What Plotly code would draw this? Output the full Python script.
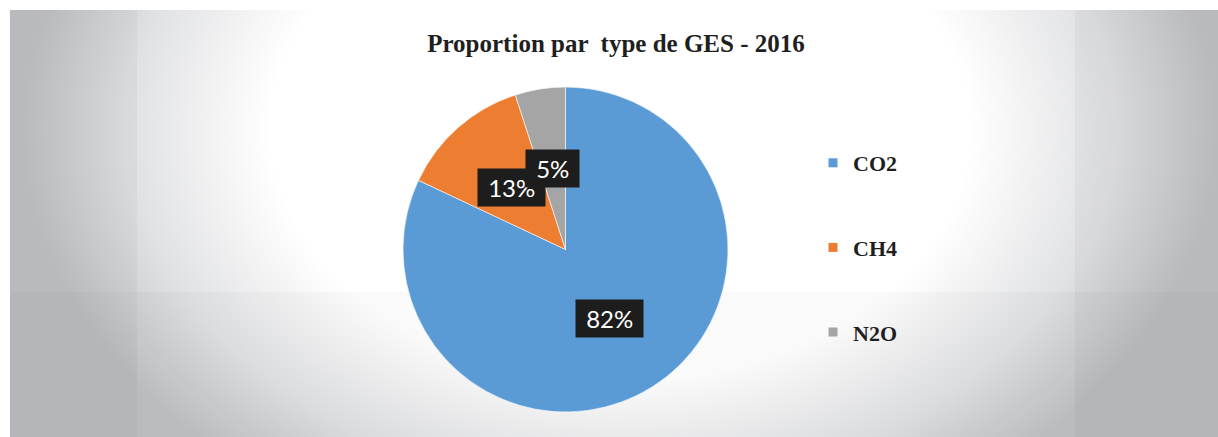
import base64
import math
import plotly.graph_objects as go

# ---- data ----
categories = ["CO2", "CH4", "N2O"]
values = [82, 13, 5]
colors = ["#5A9BD6", "#ED7D31", "#A5A5A5"]
title_text = "Proportion par  type de GES - 2016"

W, H = 1218, 437

# ---- background (gradient frame, styling only) ----
svg = f'''<svg xmlns="http://www.w3.org/2000/svg" width="{W}" height="{H}" viewBox="0 0 {W} {H}">
<defs>
<radialGradient id="g" gradientUnits="userSpaceOnUse" cx="620" cy="130" r="600"
  gradientTransform="translate(620 130) scale(1 0.72) translate(-620 -130)">
<stop offset="0" stop-color="#ffffff"/>
<stop offset="0.58" stop-color="#ffffff"/>
<stop offset="0.82" stop-color="#e0e1e3"/>
<stop offset="1" stop-color="#bfc0c4"/>
</radialGradient>
</defs>
<rect x="0" y="0" width="{W}" height="{H}" fill="#ffffff"/>
<rect x="10" y="10" width="{W-10}" height="{H-10}" fill="url(#g)"/>
<rect x="10" y="10" width="127" height="{H-10}" fill="#000" fill-opacity="0.03"/>
<rect x="1075" y="10" width="{W-1075}" height="{H-10}" fill="#000" fill-opacity="0.03"/>
<rect x="10" y="292" width="{W-10}" height="{H-292}" fill="#000" fill-opacity="0.018"/>
</svg>'''
bg_uri = "data:image/svg+xml;base64," + base64.b64encode(svg.encode()).decode()

dom_x = [403 / W, 728 / W]
dom_y = [1 - 412 / H, 1 - 87 / H]

fig = go.Figure()
fig.add_trace(go.Pie(
    labels=categories, values=values, sort=False,
    direction="clockwise", rotation=0,
    marker=dict(colors=colors, line=dict(color="white", width=0.6)),
    textinfo="none", hoverinfo="label+percent",
    showlegend=False, domain=dict(x=dom_x, y=dom_y),
))

# percentage labels with dark boxes, placed from the slice angles
cx = (dom_x[0] + dom_x[1]) / 2
cy = (dom_y[0] + dom_y[1]) / 2
r_px = min((dom_x[1] - dom_x[0]) * W, (dom_y[1] - dom_y[0]) * H) / 2
total = sum(values)
cum = 0
for cat, v in zip(categories, values):
    mid = (cum + v / 2) / total * 2 * math.pi
    cum += v
    fig.add_annotation(
        x=cx + 0.505 * r_px * math.sin(mid) / W,
        y=cy + 0.505 * r_px * math.cos(mid) / H,
        xref="paper", yref="paper",
        text=f"&nbsp;{round(v / total * 100)}%&nbsp;",
        showarrow=False, xanchor="center", yanchor="middle",
        font=dict(family="Lato", size=24, color="white"),
        bgcolor="#1d1d1d", borderpad=4,
    )

# legend entries
for cat, col in zip(categories, colors):
    fig.add_trace(go.Scatter(
        x=[None], y=[None], mode="markers", name=cat, legendgroup=cat,
        marker=dict(symbol="square", size=9, color=col),
        showlegend=True, hoverinfo="skip",
    ))

fig.update_layout(
    width=W, height=H,
    margin=dict(l=0, r=0, t=0, b=0),
    paper_bgcolor="white", plot_bgcolor="rgba(0,0,0,0)",
    title=dict(text=title_text, x=616 / W, y=1 - 43 / H,
               xanchor="center", yanchor="middle",
               font=dict(family="Liberation Serif", size=25, color="#1f1f1f", weight="bold")),
    legend=dict(x=813 / W, y=1 - 142 / H, xanchor="left", yanchor="top",
                font=dict(family="Liberation Serif", size=22, color="#1f1f1f", weight="bold"),
                tracegroupgap=53, bgcolor="rgba(0,0,0,0)"),
    xaxis=dict(visible=False), yaxis=dict(visible=False),
    images=[dict(source=bg_uri, xref="paper", yref="paper", x=0, y=1,
                 sizex=1, sizey=1, sizing="stretch", layer="below",
                 xanchor="left", yanchor="top")],
)

fig.write_html("out.html", config={"displayModeBar": False},
               post_script="document.body.style.margin='0';")
